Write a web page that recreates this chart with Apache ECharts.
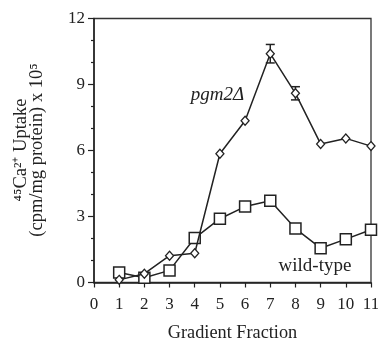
<!DOCTYPE html>
<html>
<head>
<meta charset="utf-8">
<script src="https://cdn.jsdelivr.net/npm/echarts@6/dist/echarts.min.js"></script>
<style>html,body{margin:0;padding:0;background:#fff}#c{width:378px;height:345px}</style>
</head>
<body>
<div id="c"></div>
<script>
var fractions = [1,2,3,4,5,6,7,8,9,10,11];
var pgm2 = [0.12,0.4,1.22,1.33,5.85,7.35,10.4,8.6,6.3,6.55,6.2];
var wildType = [0.45,0.22,0.55,2.02,2.9,3.45,3.72,2.45,1.56,1.97,2.4];
var pgm2ErrFraction = [7,8];
var pgm2ErrCenter = [10.4,8.6];
var pgm2ErrSize = [0.42,0.3];
var yTicks = [0,3,6,9,12];
var xTicks = [0,1,2,3,4,5,6,7,8,9,10,11];

var FONT = '"Liberation Serif","Times New Roman",serif';
var chart = echarts.init(document.getElementById('c'), null, {renderer:'canvas'});

var errData = pgm2ErrFraction.map(function(f,i){
  return [f, pgm2ErrCenter[i]-pgm2ErrSize[i], pgm2ErrCenter[i]+pgm2ErrSize[i]];
});

chart.setOption({
  animation:false,
  backgroundColor:'#fff',
  grid:{left:94,right:7,top:18.5,bottom:62.5,show:true,borderColor:'#333',borderWidth:1.3,backgroundColor:'transparent',outerBoundsMode:'none',containLabel:false},
  xAxis:{
    type:'value',min:xTicks[0],max:xTicks[xTicks.length-1],interval:1,
    axisLine:{show:true,lineStyle:{color:'#222',width:1.5}},
    axisTick:{show:true,length:5,lineStyle:{color:'#222',width:1.2}},
    axisLabel:{color:'#222',fontFamily:FONT,fontSize:17,margin:14},
    splitLine:{show:false},
    name:'Gradient Fraction',nameLocation:'middle',nameGap:42,
    nameTextStyle:{color:'#222',fontFamily:FONT,fontSize:18.3}
  },
  yAxis:{
    type:'value',min:yTicks[0],max:yTicks[yTicks.length-1],interval:3,
    axisLine:{show:true,lineStyle:{color:'#222',width:1.5}},
    axisTick:{show:true,length:6,lineStyle:{color:'#222',width:1.2}},
    minorTick:{show:true,splitNumber:3,length:3,lineStyle:{color:'#222',width:1.2}},
    axisLabel:{color:'#222',fontFamily:FONT,fontSize:17,margin:9},
    splitLine:{show:false}
  },
  graphic:[
    {type:'text',x:21,y:150,rotation:Math.PI/2,style:{text:'⁴⁵Ca²⁺ Uptake',font:'18.5px '+FONT,fill:'#222',align:'center',verticalAlign:'middle'}},
    {type:'text',x:37,y:150,rotation:Math.PI/2,style:{text:'(cpm/mg protein) x 10⁵',font:'18.5px '+FONT,fill:'#222',align:'center',verticalAlign:'middle'}},
    {type:'text',x:217.5,y:95,style:{text:'pgm2Δ',font:'italic 19px '+FONT,fill:'#222',align:'center',verticalAlign:'middle'}},
    {type:'text',x:315,y:266,style:{text:'wild-type',font:'19px '+FONT,fill:'#222',align:'center',verticalAlign:'middle'}}
  ],
  series:[
    {
      type:'line',name:'wild-type',
      data:fractions.map(function(f,i){return [f,wildType[i]];}),
      symbol:'rect',symbolSize:11,showAllSymbol:true,
      lineStyle:{color:'#222',width:1.5},
      itemStyle:{color:'#fff',borderColor:'#222',borderWidth:1.5},
      z:3
    },
    {
      type:'line',name:'pgm2',
      data:fractions.map(function(f,i){return [f,pgm2[i]];}),
      symbol:'diamond',symbolSize:[8,9],showAllSymbol:true,
      lineStyle:{color:'#222',width:1.5},
      itemStyle:{color:'#fff',borderColor:'#222',borderWidth:1.3},
      z:4
    },
    {
      type:'custom',name:'err',
      data:errData,
      renderItem:function(params,api){
        var x=api.value(0),lo=api.value(1),hi=api.value(2);
        var pLo=api.coord([x,lo]),pHi=api.coord([x,hi]);
        var w=4.5;
        var st={stroke:'#222',lineWidth:1.5};
        return {type:'group',children:[
          {type:'line',shape:{x1:pLo[0],y1:pLo[1],x2:pHi[0],y2:pHi[1]},style:st},
          {type:'line',shape:{x1:pLo[0]-w,y1:pLo[1],x2:pLo[0]+w,y2:pLo[1]},style:st},
          {type:'line',shape:{x1:pHi[0]-w,y1:pHi[1],x2:pHi[0]+w,y2:pHi[1]},style:st}
        ]};
      },
      z:2
    }
  ]
});
</script>
</body>
</html>
